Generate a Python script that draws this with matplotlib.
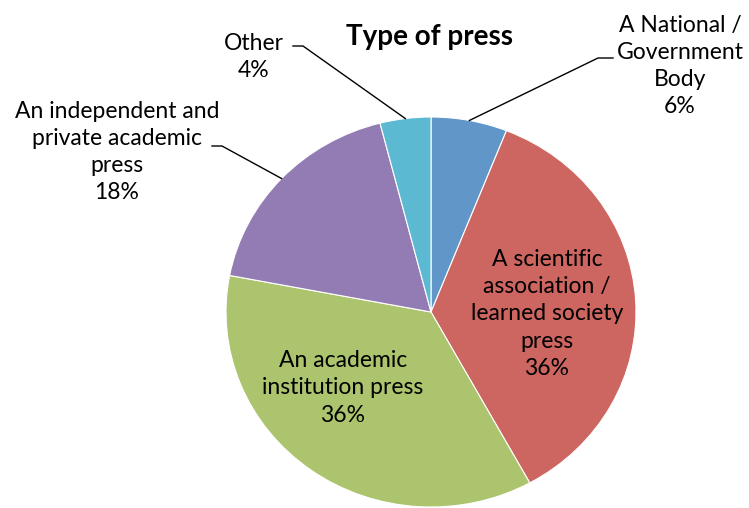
import numpy as np
import matplotlib
matplotlib.use("Agg")
import matplotlib.pyplot as plt
from matplotlib.lines import Line2D

title = "Type of press"
categories = ["A National /\nGovernment\nBody",
              "A scientific\nassociation /\nlearned society\npress",
              "An academic\ninstitution press",
              "An independent and\nprivate academic\npress",
              "Other"]
values = [6, 36, 36, 18, 4]
colors = ["#6096C8", "#CD6560", "#ABC46D", "#937CB3", "#5CB9D2"]

W, H = 749, 508
fig = plt.figure(figsize=(W / 100, H / 100), dpi=100)
FONT = ["Lato", "DejaVu Sans"]

# pie axes (slightly elliptical, as in the reference)
cx, cy, rx, ry = 431, 312, 205, 195
ax = fig.add_axes([(cx - rx) / W, (H - cy - ry) / H, 2 * rx / W, 2 * ry / H])
wedges, _ = ax.pie(values, colors=colors, startangle=90, counterclock=False,
                   radius=1, wedgeprops=dict(edgecolor="white", linewidth=0.8))
ax.set_xlim(-1, 1)
ax.set_ylim(-1, 1)
ax.set_aspect("auto")
ax.axis("off")

def fx(px):
    return px / W

def fy(py):
    return 1 - py / H

fig.text(fx(430), fy(37), title, ha="center", va="center", fontsize=20,
         fontweight="bold", family=FONT)

fs = 16.5
ls = 1.36

def pct(v):
    return f"{v}%"

# inside labels
inside = {1: (547, 314), 2: (343, 388)}
for i, (px, py) in inside.items():
    fig.text(fx(px), fy(py), categories[i] + "\n" + pct(values[i]), ha="center",
             va="center", fontsize=fs, family=FONT, linespacing=ls)

# outside labels with leader lines
outside = {
    0: dict(text=(680, 66), tx=613, elbow=598, ey=58),
    3: dict(text=(117, 152), tx=212, elbow=222, ey=146),
    4: dict(text=(254, 57), tx=293, elbow=303, ey=46),
}
theta_acc = 90.0
mids = []
for v in values:
    span = v / sum(values) * 360
    mids.append(theta_acc - span / 2)
    theta_acc -= span

for i, o in outside.items():
    px, py = o["text"]
    fig.text(fx(px), fy(py), categories[i] + "\n" + pct(values[i]), ha="center",
             va="center", fontsize=fs, family=FONT, linespacing=ls)
    th = np.deg2rad(mids[i])
    disp = ax.transData.transform((np.cos(th), np.sin(th)))
    fxy = fig.transFigure.inverted().transform(disp)
    xs = [fx(o["tx"]), fx(o["elbow"]), fxy[0]]
    ys = [fy(o["ey"]), fy(o["ey"]), fxy[1]]
    fig.add_artist(Line2D(xs, ys, color="black", linewidth=1.0))

fig.savefig("out.png", dpi=100, facecolor="white")
